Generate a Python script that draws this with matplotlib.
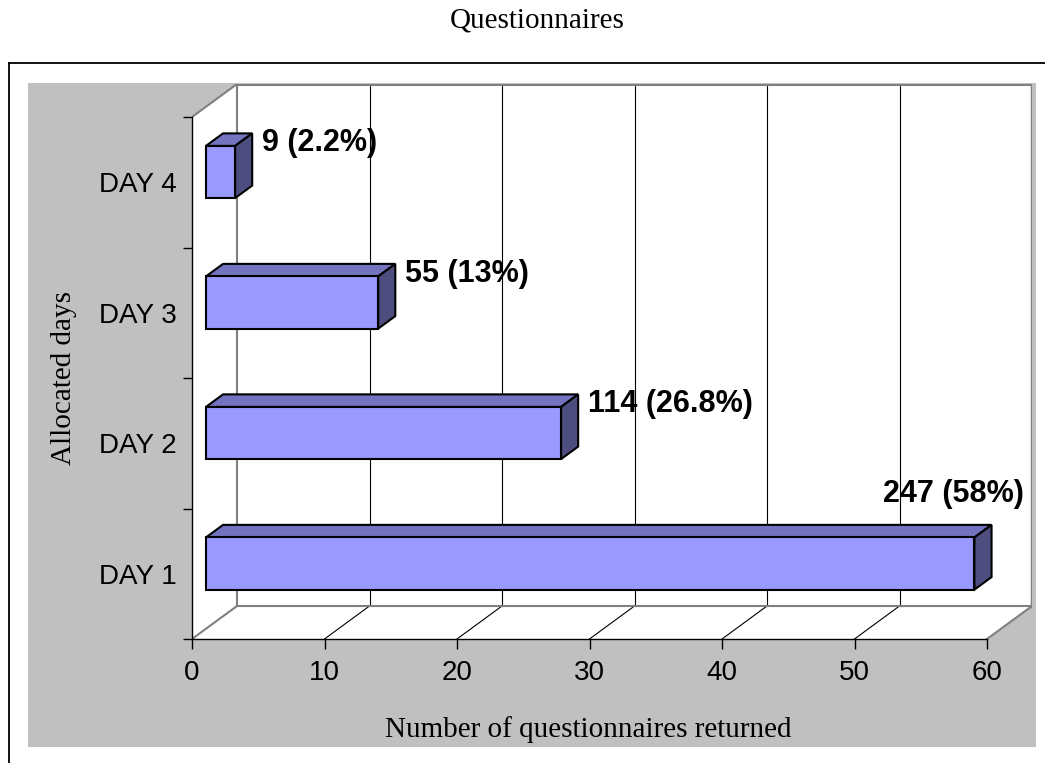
import matplotlib
matplotlib.use("Agg")
import matplotlib.pyplot as plt
from matplotlib.patches import Polygon, Rectangle
from matplotlib.lines import Line2D
import numpy as np

# ---- data ----
categories = ["DAY 1", "DAY 2", "DAY 3", "DAY 4"]
counts = [247, 114, 55, 9]
percents = [58, 26.8, 13, 2.2]
pct_text = ["58", "26.8", "13", "2.2"]
x_ticks = [0, 10, 20, 30, 40, 50, 60]
title = "Questionnaires"
x_label = "Number of questionnaires returned"
y_label = "Allocated days"

# ---- style / geometry ----
W, H = 1045, 763
FRONT = "#9999FF"
TOP = "#7373BF"
SIDE = "#4D4D80"
WALLEDGE = "#808080"
BG = "#C0C0C0"
SANS = "Liberation Sans"
SERIF = "Liberation Serif"

px_per_x = 795 / 60.0
px_per_y = 130.5
DX = 45 / px_per_x          # depth offset in x data units
DY = 33 / px_per_y          # depth offset in y data units
d0, d1 = 0.31, 0.69         # bar depth span (fraction of full depth)
half = 0.2                  # half bar thickness
EDGE_LW = 1.5

fig = plt.figure(figsize=(W / 100, H / 100), dpi=100)
fig.patch.set_facecolor("white")

def fx(p):
    return p / W

def fy(p):
    return 1 - p / H

# gray chart area and partial outer border
fig.add_artist(Rectangle((fx(28), fy(747)), fx(1036) - fx(28), fy(83) - fy(747),
                         transform=fig.transFigure, facecolor=BG, edgecolor="none", zorder=0))
fig.add_artist(Line2D([fx(9), fx(9)], [fy(63), 0], transform=fig.transFigure, color="black", lw=1.3))
fig.add_artist(Line2D([fx(9), 1], [fy(63), fy(63)], transform=fig.transFigure, color="black", lw=1.3))

ncat = len(categories)
xmax = x_ticks[-1]
ax = fig.add_axes([fx(192), fy(639), (xmax + DX) * px_per_x / W, (ncat + DY) * px_per_y / H])
ax.set_xlim(0, xmax + DX)
ax.set_ylim(0, ncat + DY)
ax.patch.set_visible(False)

# walls
ax.add_patch(Polygon([(DX, DY), (xmax + DX, DY), (xmax + DX, ncat + DY), (DX, ncat + DY)],
                     closed=True, facecolor="white", edgecolor="none", zorder=0.5))
ax.add_patch(Polygon([(0, 0), (DX, DY), (DX, ncat + DY), (0, ncat)],
                     closed=True, facecolor="white", edgecolor="none", zorder=0.5))
ax.add_patch(Polygon([(0, 0), (xmax, 0), (xmax + DX, DY), (DX, DY)],
                     closed=True, facecolor="white", edgecolor="none", zorder=0.5))

# gridlines on back wall and floor
for v in x_ticks[1:-1]:
    ax.plot([v + DX, v + DX], [DY, ncat + DY], color="black", lw=0.8, zorder=1)
    ax.plot([v, v + DX], [0, DY], color="black", lw=0.8, zorder=1)

# wall edges
ek = dict(color=WALLEDGE, lw=1.5, zorder=1.2, solid_capstyle="projecting")
ax.plot([0, DX], [0, DY], **ek)
ax.plot([xmax, xmax + DX], [0, DY], **ek)
ax.plot([DX, xmax + DX], [DY, DY], **ek)
ax.plot([DX, DX], [DY, ncat + DY], **ek)
ax.plot([0, DX], [ncat, ncat + DY], **ek)
ax.plot([DX, xmax + DX], [ncat + DY, ncat + DY], color=WALLEDGE, lw=2.2, zorder=1.2)
ax.plot([xmax + DX, xmax + DX], [DY, ncat + DY], color=WALLEDGE, lw=2.5, zorder=1.2)

# bars
centers = np.arange(ncat) + 0.5
vals = np.array(percents, dtype=float)
ax.barh(centers + d0 * DY, vals, height=2 * half, left=d0 * DX,
        color=FRONT, edgecolor="black", linewidth=EDGE_LW, zorder=3)
for c, v in zip(centers, vals):
    t0 = c + half + d0 * DY
    t1 = c + half + d1 * DY
    b0 = c - half + d0 * DY
    b1 = c - half + d1 * DY
    ax.add_patch(Polygon([(d0 * DX, t0), (v + d0 * DX, t0), (v + d1 * DX, t1), (d1 * DX, t1)],
                         closed=True, facecolor=TOP, edgecolor="black", lw=EDGE_LW,
                         joinstyle="miter", zorder=2.5))
    ax.add_patch(Polygon([(v + d0 * DX, b0), (v + d0 * DX, t0), (v + d1 * DX, t1), (v + d1 * DX, b1)],
                         closed=True, facecolor=SIDE, edgecolor="black", lw=EDGE_LW,
                         joinstyle="miter", zorder=2.5))

# value labels
for i, (c, v, n, p) in enumerate(zip(centers, vals, counts, pct_text)):
    corner = (v + d1 * DX, c + half + d1 * DY)
    label = f"{n} ({p}%)"
    if v > 50:
        ax.annotate(label, xy=corner, xytext=(32, 31), textcoords="offset pixels",
                    ha="right", va="center", fontsize=22, fontweight="bold",
                    family=SANS, zorder=5, annotation_clip=False)
    else:
        ax.annotate(label, xy=corner, xytext=(10, -10), textcoords="offset pixels",
                    ha="left", va="center", fontsize=22, fontweight="bold",
                    family=SANS, zorder=5, annotation_clip=False)

# spines and ticks
for s in ["top", "right"]:
    ax.spines[s].set_visible(False)
ax.spines["left"].set_bounds(0, ncat)
ax.spines["bottom"].set_bounds(0, xmax)
ax.spines["left"].set_linewidth(1.0)
ax.spines["bottom"].set_linewidth(1.0)
ax.spines["left"].set_zorder(4)
ax.spines["bottom"].set_zorder(4)

ax.set_xticks(x_ticks)
ax.set_xticklabels([str(t) for t in x_ticks], family=SANS, fontsize=20)
ax.tick_params(axis="x", direction="out", length=7, width=1.0, pad=8, color="black")
ax.set_yticks(np.arange(ncat + 1))
ax.set_yticklabels([])
ax.tick_params(axis="y", which="major", direction="out", length=6.5, width=1.0, color="black")
ax.set_yticks(centers, minor=True)
ax.set_yticklabels(categories, minor=True, family=SANS, fontsize=20)
ax.tick_params(axis="y", which="minor", length=0, pad=11)

# titles
fig.text(fx(537), fy(28), title, family=SERIF, fontsize=21, ha="center", va="baseline")
fig.text(fx(588), fy(737), x_label, family=SERIF, fontsize=21, ha="center", va="baseline")
fig.text(fx(64), fy(378), y_label, family=SERIF, fontsize=21, ha="center", va="center", rotation=90)

fig.savefig("out.png", dpi=100)
